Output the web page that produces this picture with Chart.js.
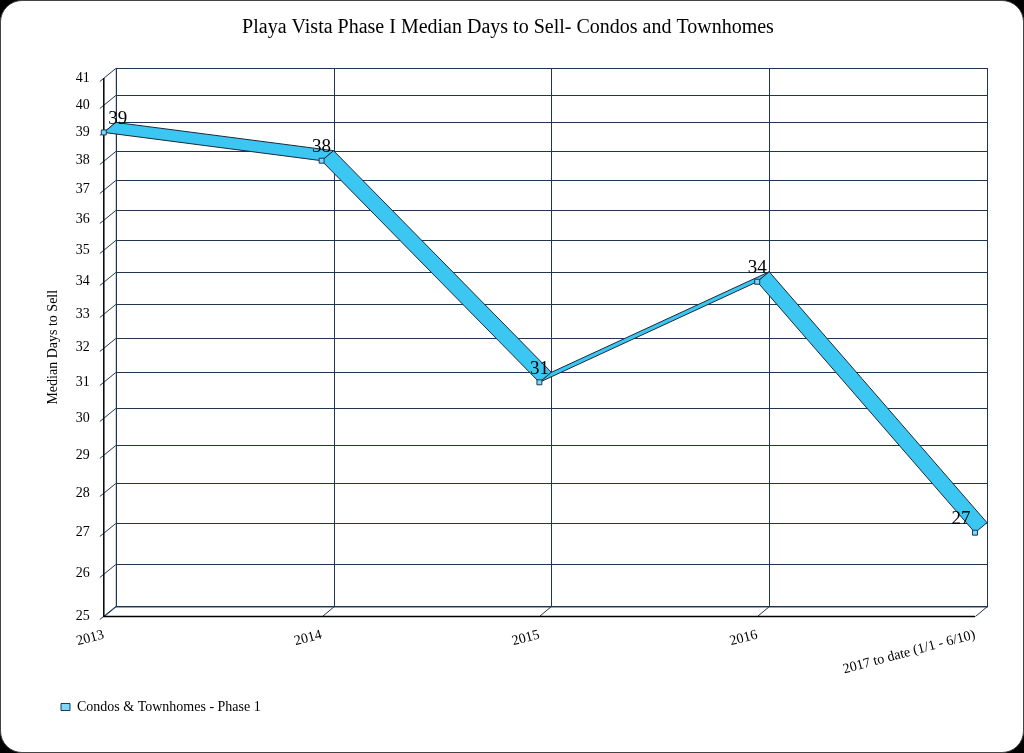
<!DOCTYPE html>
<html><head><meta charset="utf-8">
<script src="https://cdn.jsdelivr.net/npm/chart.js@4/dist/chart.umd.min.js"></script>
<style>
html,body{margin:0;padding:0;background:#000;}
#wrap{position:absolute;left:0;top:0;width:1022px;height:751px;background:#fff;border-radius:22px;border:1px solid #444;}
canvas{position:absolute;left:0;top:0;}
</style></head><body>
<div id="wrap"><canvas id="c" width="1024" height="753"></canvas></div>
<script>
const categories = ["2013","2014","2015","2016","2017 to date (1/1 - 6/10)"];
const values = [39,38,31,34,27];
const yTicks = [25,26,27,28,29,30,31,32,33,34,35,36,37,38,39,40,41];
const seriesName = "Condos & Townhomes - Phase 1";
const DX=12, DY=-10;
const FONT="'Liberation Serif', 'DejaVu Serif', serif";

const deco = {
  id:'deco',
  beforeDatasetsDraw(chart){
    const {ctx, chartArea:a, scales:{x,y}} = chart;
    ctx.save();
    ctx.strokeStyle='#1f3550'; ctx.lineWidth=1;
    yTicks.forEach(t=>{const py=Math.round(y.getPixelForValue(t))+0.5;
      ctx.beginPath();ctx.moveTo(a.left-4,py+3);ctx.lineTo(a.left+DX,py+DY);ctx.lineTo(a.right+DX,py+DY);ctx.stroke();});
    categories.forEach((c,i)=>{const px=Math.round(x.getPixelForValue(i))+0.5;
      ctx.beginPath();ctx.moveTo(px,a.bottom);ctx.lineTo(px+DX,a.bottom+DY);ctx.lineTo(px+DX,a.top+DY);ctx.stroke();});
    ctx.strokeRect(a.left+DX+0.5,a.top+DY+0.5,a.right-a.left,a.bottom-a.top);
    ctx.strokeStyle='#000';ctx.lineWidth=1.5;
    ctx.beginPath();ctx.moveTo(a.left,a.top);ctx.lineTo(a.left,a.bottom);ctx.lineTo(a.right,a.bottom);ctx.stroke();
    const pts = chart.getDatasetMeta(0).data;
    ctx.lineWidth=1;ctx.strokeStyle='#1a2a3a';ctx.fillStyle='#3cc6f2';
    for(let i=0;i<pts.length-1;i++){
      const p=pts[i],q=pts[i+1];
      ctx.beginPath();ctx.moveTo(p.x,p.y);ctx.lineTo(q.x,q.y);ctx.lineTo(q.x+DX,q.y+DY);ctx.lineTo(p.x+DX,p.y+DY);ctx.closePath();ctx.fill();ctx.stroke();
    }
    ctx.restore();
  },
  afterDatasetsDraw(chart){
    const {ctx} = chart;
    const pts = chart.getDatasetMeta(0).data;
    ctx.save();ctx.font="19px "+FONT;ctx.fillStyle='#000';ctx.textAlign='center';ctx.textBaseline='bottom';
    pts.forEach((p,i)=>{let ox=0;if(i===0)ox=14;if(i===pts.length-1)ox=-14;
      ctx.fillText(String(values[i]),p.x+ox,p.y-4);});
    ctx.restore();
  }
};

new Chart(document.getElementById('c'),{
  type:'line',
  data:{labels:categories,datasets:[{label:seriesName,data:values,borderColor:'#1a2a3a',borderWidth:1,
    backgroundColor:'#3cc6f2',pointStyle:'rect',pointRadius:3.5,pointBackgroundColor:'#7fd8f5',pointBorderColor:'#1a3a5a',
    showLine:false}]},
  options:{responsive:false,animation:false,
    layout:{padding:{left:40,right:50,top:11,bottom:30}},
    plugins:{
      title:{display:true,text:'Playa Vista Phase I Median Days to Sell- Condos and Townhomes',color:'#000',font:{family:FONT,size:20,weight:'normal'},padding:{top:4,bottom:38}},
      legend:{position:'bottom',align:'start',labels:{color:'#000',font:{family:FONT,size:14},usePointStyle:true,pointStyleWidth:9,boxHeight:7,padding:20}},
      tooltip:{enabled:false}},
    scales:{
      x:{type:'category',offset:false,grid:{display:false},border:{display:false},
        ticks:{color:'#000',font:{family:FONT,size:14},minRotation:15,maxRotation:15,padding:2}},
      y:{type:'logarithmic',min:25,max:41,grid:{display:false},border:{display:false},
        afterBuildTicks(s){s.ticks=yTicks.map(v=>({value:v}));},
        ticks:{color:'#000',font:{family:FONT,size:14},callback:v=>String(v),autoSkip:false,padding:6},
        title:{display:true,text:'Median Days to Sell',color:'#000',font:{family:FONT,size:14},padding:{bottom:8}}}
    }},
  plugins:[deco]
});
</script></body></html>
